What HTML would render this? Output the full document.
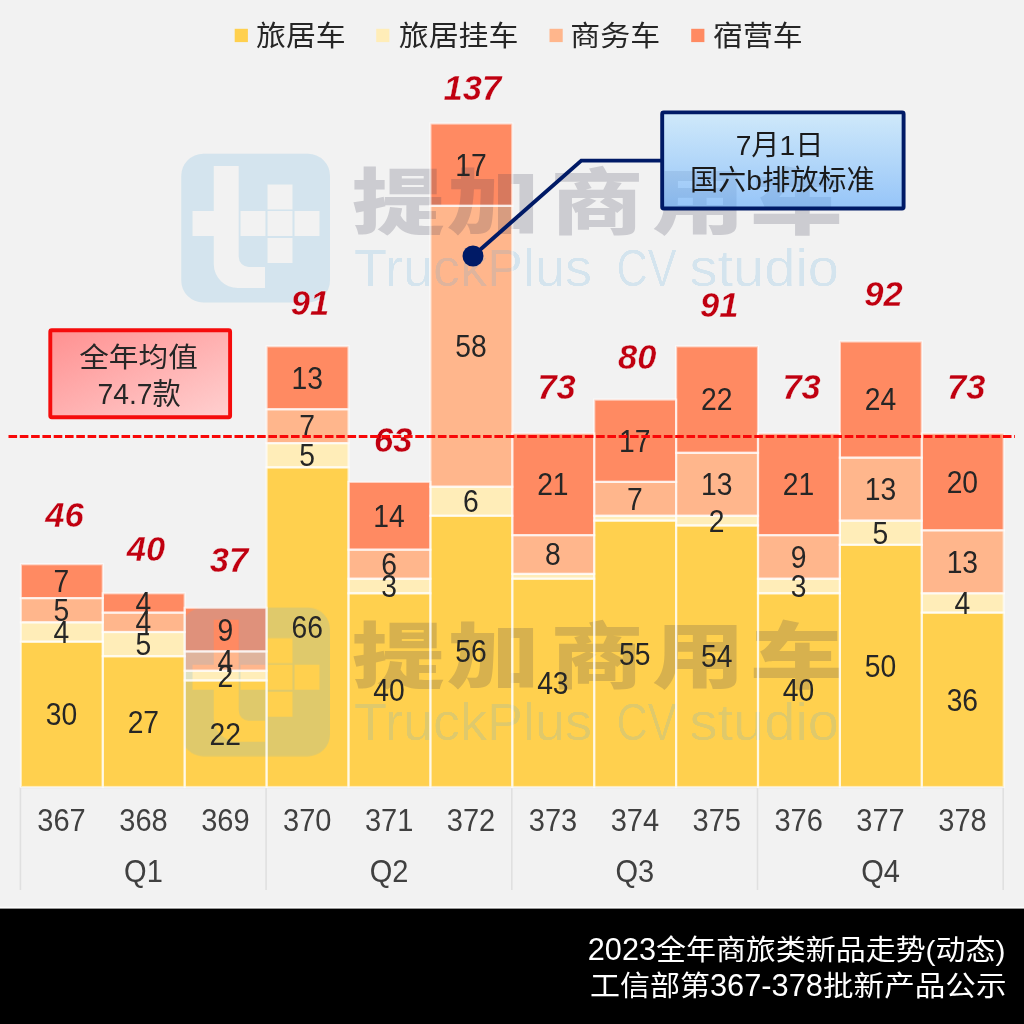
<!DOCTYPE html>
<html lang="zh-CN"><head><meta charset="utf-8"><title>2023全年商旅类新品走势(动态)</title>
<style>
html,body{margin:0;padding:0;background:#f2f2f2;}
body{width:1024px;height:1024px;overflow:hidden;}
svg{display:block;font-family:"Liberation Sans", "Noto Sans CJK SC", sans-serif;}
.dl{font-size:31px;fill:#262626;text-anchor:middle;}
.tot{font-size:35.3px;font-weight:bold;font-style:italic;fill:#c00010;text-anchor:middle;stroke:#f4f4f4;stroke-width:0.35px;}
.ax{font-size:31px;fill:#404040;text-anchor:middle;}
.lg{font-size:29.3px;fill:#262626;}
.fl{font-size:30px;fill:#ffffff;}
.wm{opacity:0.2;}
.wmc{font-family:"Noto Sans CJK SC","Liberation Sans",sans-serif;font-weight:900;font-size:72px;fill:#39394f;}
.wme{font-size:51px;fill:#61b1de;}
.cb{font-size:28.2px;fill:#1a1a1a;text-anchor:middle;}
.cr{font-size:29.3px;fill:#262626;text-anchor:middle;}
</style></head><body>
<svg width="1024" height="1024" viewBox="0 0 1024 1024">
<defs>
<linearGradient id="gb" x1="0" y1="0" x2="0" y2="1"><stop offset="0" stop-color="#b8e3ff"/><stop offset="1" stop-color="#58a6fc"/></linearGradient>
<linearGradient id="gr" x1="0" y1="0" x2="1" y2="1"><stop offset="0" stop-color="#ff9090"/><stop offset="1" stop-color="#ffd0d0"/></linearGradient>
<filter id="thin" x="-2%" y="-15%" width="104%" height="130%"><feGaussianBlur stdDeviation="0.7"/><feComponentTransfer><feFuncA type="linear" slope="2.5" intercept="-1.3"/></feComponentTransfer></filter>
<clipPath id="cw"><rect x="184.70" y="560" width="840" height="227.00"/></clipPath>
</defs>
<rect x="0" y="0" width="1024" height="908.6" fill="#f2f2f2"/>
<rect x="0" y="906.7" width="1024" height="2" fill="#ffffff" opacity="0.85"/>
<rect x="0" y="908.6" width="1024" height="115.4" fill="#000000"/>
<g id="legend">
<rect x="234.7" y="28.8" width="13.2" height="13.3" fill="#ffd04e"/>
<text class="lg" transform="translate(256.0 45.7) scale(1.022 0.98)">旅居车</text>
<rect x="376.2" y="28.8" width="13.2" height="13.3" fill="#ffedb8"/>
<text class="lg" transform="translate(398.7 45.7) scale(1.022 0.98)">旅居挂车</text>
<rect x="549.5" y="28.8" width="13.2" height="13.3" fill="#ffb68c"/>
<text class="lg" transform="translate(570.3 45.7) scale(1.022 0.98)">商务车</text>
<rect x="691.2" y="28.8" width="13.2" height="13.3" fill="#ff8a62"/>
<text class="lg" transform="translate(713.0 45.7) scale(1.022 0.98)">宿营车</text>
</g>
<g id="axis" stroke="#e0e0e0" stroke-width="1.6" fill="none">
<line x1="20.90" y1="787.5" x2="1003.70" y2="787.5"/>
<line x1="20.40" y1="787.0" x2="20.40" y2="890"/>
<line x1="266.10" y1="787.0" x2="266.10" y2="890"/>
<line x1="511.80" y1="787.0" x2="511.80" y2="890"/>
<line x1="757.50" y1="787.0" x2="757.50" y2="890"/>
<line x1="1003.20" y1="787.0" x2="1003.20" y2="890"/>
</g>
<g id="bars">
<rect x="20.90" y="641.71" width="81.90" height="145.29" fill="#ffd04e"/>
<rect x="20.90" y="622.34" width="81.90" height="19.37" fill="#ffedb8"/>
<rect x="20.90" y="598.12" width="81.90" height="24.21" fill="#ffb68c"/>
<rect x="20.90" y="564.22" width="81.90" height="33.90" fill="#ff8a62"/>
<rect x="102.80" y="656.24" width="81.90" height="130.76" fill="#ffd04e"/>
<rect x="102.80" y="632.02" width="81.90" height="24.22" fill="#ffedb8"/>
<rect x="102.80" y="612.65" width="81.90" height="19.37" fill="#ffb68c"/>
<rect x="102.80" y="593.28" width="81.90" height="19.37" fill="#ff8a62"/>
<rect x="184.70" y="680.45" width="81.90" height="106.55" fill="#ffd04e"/>
<rect x="184.70" y="670.77" width="81.90" height="9.69" fill="#ffedb8"/>
<rect x="184.70" y="651.40" width="81.90" height="19.37" fill="#ffb68c"/>
<rect x="184.70" y="607.81" width="81.90" height="43.59" fill="#ff8a62"/>
<rect x="266.60" y="467.36" width="81.90" height="319.64" fill="#ffd04e"/>
<rect x="266.60" y="443.15" width="81.90" height="24.22" fill="#ffedb8"/>
<rect x="266.60" y="409.25" width="81.90" height="33.90" fill="#ffb68c"/>
<rect x="266.60" y="346.29" width="81.90" height="62.96" fill="#ff8a62"/>
<rect x="348.50" y="593.28" width="81.90" height="193.72" fill="#ffd04e"/>
<rect x="348.50" y="578.75" width="81.90" height="14.53" fill="#ffedb8"/>
<rect x="348.50" y="549.69" width="81.90" height="29.06" fill="#ffb68c"/>
<rect x="348.50" y="481.89" width="81.90" height="67.80" fill="#ff8a62"/>
<rect x="430.40" y="515.79" width="81.90" height="271.21" fill="#ffd04e"/>
<rect x="430.40" y="486.73" width="81.90" height="29.06" fill="#ffedb8"/>
<rect x="430.40" y="205.84" width="81.90" height="280.89" fill="#ffb68c"/>
<rect x="430.40" y="123.51" width="81.90" height="82.33" fill="#ff8a62"/>
<rect x="512.30" y="578.75" width="81.90" height="208.25" fill="#ffd04e"/>
<rect x="512.30" y="573.91" width="81.90" height="4.84" fill="#ffedb8"/>
<rect x="512.30" y="535.16" width="81.90" height="38.74" fill="#ffb68c"/>
<rect x="512.30" y="433.46" width="81.90" height="101.70" fill="#ff8a62"/>
<rect x="594.20" y="520.63" width="81.90" height="266.37" fill="#ffd04e"/>
<rect x="594.20" y="515.79" width="81.90" height="4.84" fill="#ffedb8"/>
<rect x="594.20" y="481.89" width="81.90" height="33.90" fill="#ffb68c"/>
<rect x="594.20" y="399.56" width="81.90" height="82.33" fill="#ff8a62"/>
<rect x="676.10" y="525.48" width="81.90" height="261.52" fill="#ffd04e"/>
<rect x="676.10" y="515.79" width="81.90" height="9.69" fill="#ffedb8"/>
<rect x="676.10" y="452.83" width="81.90" height="62.96" fill="#ffb68c"/>
<rect x="676.10" y="346.29" width="81.90" height="106.55" fill="#ff8a62"/>
<rect x="758.00" y="593.28" width="81.90" height="193.72" fill="#ffd04e"/>
<rect x="758.00" y="578.75" width="81.90" height="14.53" fill="#ffedb8"/>
<rect x="758.00" y="535.16" width="81.90" height="43.59" fill="#ffb68c"/>
<rect x="758.00" y="433.46" width="81.90" height="101.70" fill="#ff8a62"/>
<rect x="839.90" y="544.85" width="81.90" height="242.15" fill="#ffd04e"/>
<rect x="839.90" y="520.63" width="81.90" height="24.22" fill="#ffedb8"/>
<rect x="839.90" y="457.68" width="81.90" height="62.96" fill="#ffb68c"/>
<rect x="839.90" y="341.44" width="81.90" height="116.23" fill="#ff8a62"/>
<rect x="921.80" y="612.65" width="81.90" height="174.35" fill="#ffd04e"/>
<rect x="921.80" y="593.28" width="81.90" height="19.37" fill="#ffedb8"/>
<rect x="921.80" y="530.32" width="81.90" height="62.96" fill="#ffb68c"/>
<rect x="921.80" y="433.46" width="81.90" height="96.86" fill="#ff8a62"/>
</g>
<g class="wm" transform="translate(0 0)">
<path fill="#61b1de" fill-rule="evenodd" d="M203.25 153.75 h104.75 a22 22 0 0 1 22 22 v104.75 a22 22 0 0 1 -22 22 h-104.75 a22 22 0 0 1 -22 -22 v-104.75 a22 22 0 0 1 22 -22 z M213.75 166.00 L238.75 166.00 L238.75 257.00 A10 10 0 0 0 248.75 267.00 L265.00 267.00 L265.00 288.00 L237.75 288.00 A24 24 0 0 1 213.75 264.00 L213.75 236.00 L192.50 236.00 L192.50 211.00 L213.75 211.00 z M267.50 184.50 h25 v25 h-25 z M267.50 211.00 h25 v25 h-25 z M267.50 238.00 h25 v25 h-25 z M240.50 211.00 h25 v25 h-25 z M294.50 211.00 h25 v25 h-25 z"/>
<text class="wmc" transform="translate(0 228.3) scale(1.29 1)" x="272.71 346.36 426.74 505.43 581.40" y="0">提加商用车</text>
<text class="wme" y="286.3" filter="url(#thin)"><tspan x="354" textLength="238" lengthAdjust="spacingAndGlyphs">TruckPlus</tspan> <tspan x="616.5" textLength="60" lengthAdjust="spacingAndGlyphs">CV</tspan> <tspan x="689.5" textLength="149.5" lengthAdjust="spacingAndGlyphs">studio</tspan></text>
</g>
<g clip-path="url(#cw)">
<g class="wm" transform="translate(0 453.7)">
<path fill="#61b1de" fill-rule="evenodd" d="M203.25 153.75 h104.75 a22 22 0 0 1 22 22 v104.75 a22 22 0 0 1 -22 22 h-104.75 a22 22 0 0 1 -22 -22 v-104.75 a22 22 0 0 1 22 -22 z M213.75 166.00 L238.75 166.00 L238.75 257.00 A10 10 0 0 0 248.75 267.00 L265.00 267.00 L265.00 288.00 L237.75 288.00 A24 24 0 0 1 213.75 264.00 L213.75 236.00 L192.50 236.00 L192.50 211.00 L213.75 211.00 z M267.50 184.50 h25 v25 h-25 z M267.50 211.00 h25 v25 h-25 z M267.50 238.00 h25 v25 h-25 z M240.50 211.00 h25 v25 h-25 z M294.50 211.00 h25 v25 h-25 z"/>
<text class="wmc" transform="translate(0 228.3) scale(1.29 1)" x="272.71 346.36 426.74 505.43 581.40" y="0">提加商用车</text>
<text class="wme" y="286.3" filter="url(#thin)"><tspan x="354" textLength="238" lengthAdjust="spacingAndGlyphs">TruckPlus</tspan> <tspan x="616.5" textLength="60" lengthAdjust="spacingAndGlyphs">CV</tspan> <tspan x="689.5" textLength="149.5" lengthAdjust="spacingAndGlyphs">studio</tspan></text>
</g>
</g>
<g id="barlines" fill="none" stroke="#ffffff" stroke-opacity="0.6" stroke-width="2.2">
<rect x="20.90" y="641.71" width="81.90" height="145.29"/>
<rect x="20.90" y="622.34" width="81.90" height="19.37"/>
<rect x="20.90" y="598.12" width="81.90" height="24.21"/>
<rect x="20.90" y="564.22" width="81.90" height="33.90"/>
<rect x="102.80" y="656.24" width="81.90" height="130.76"/>
<rect x="102.80" y="632.02" width="81.90" height="24.22"/>
<rect x="102.80" y="612.65" width="81.90" height="19.37"/>
<rect x="102.80" y="593.28" width="81.90" height="19.37"/>
<rect x="184.70" y="680.45" width="81.90" height="106.55"/>
<rect x="184.70" y="670.77" width="81.90" height="9.69"/>
<rect x="184.70" y="651.40" width="81.90" height="19.37"/>
<rect x="184.70" y="607.81" width="81.90" height="43.59"/>
<rect x="266.60" y="467.36" width="81.90" height="319.64"/>
<rect x="266.60" y="443.15" width="81.90" height="24.22"/>
<rect x="266.60" y="409.25" width="81.90" height="33.90"/>
<rect x="266.60" y="346.29" width="81.90" height="62.96"/>
<rect x="348.50" y="593.28" width="81.90" height="193.72"/>
<rect x="348.50" y="578.75" width="81.90" height="14.53"/>
<rect x="348.50" y="549.69" width="81.90" height="29.06"/>
<rect x="348.50" y="481.89" width="81.90" height="67.80"/>
<rect x="430.40" y="515.79" width="81.90" height="271.21"/>
<rect x="430.40" y="486.73" width="81.90" height="29.06"/>
<rect x="430.40" y="205.84" width="81.90" height="280.89"/>
<rect x="430.40" y="123.51" width="81.90" height="82.33"/>
<rect x="512.30" y="578.75" width="81.90" height="208.25"/>
<rect x="512.30" y="573.91" width="81.90" height="4.84"/>
<rect x="512.30" y="535.16" width="81.90" height="38.74"/>
<rect x="512.30" y="433.46" width="81.90" height="101.70"/>
<rect x="594.20" y="520.63" width="81.90" height="266.37"/>
<rect x="594.20" y="515.79" width="81.90" height="4.84"/>
<rect x="594.20" y="481.89" width="81.90" height="33.90"/>
<rect x="594.20" y="399.56" width="81.90" height="82.33"/>
<rect x="676.10" y="525.48" width="81.90" height="261.52"/>
<rect x="676.10" y="515.79" width="81.90" height="9.69"/>
<rect x="676.10" y="452.83" width="81.90" height="62.96"/>
<rect x="676.10" y="346.29" width="81.90" height="106.55"/>
<rect x="758.00" y="593.28" width="81.90" height="193.72"/>
<rect x="758.00" y="578.75" width="81.90" height="14.53"/>
<rect x="758.00" y="535.16" width="81.90" height="43.59"/>
<rect x="758.00" y="433.46" width="81.90" height="101.70"/>
<rect x="839.90" y="544.85" width="81.90" height="242.15"/>
<rect x="839.90" y="520.63" width="81.90" height="24.22"/>
<rect x="839.90" y="457.68" width="81.90" height="62.96"/>
<rect x="839.90" y="341.44" width="81.90" height="116.23"/>
<rect x="921.80" y="612.65" width="81.90" height="174.35"/>
<rect x="921.80" y="593.28" width="81.90" height="19.37"/>
<rect x="921.80" y="530.32" width="81.90" height="62.96"/>
<rect x="921.80" y="433.46" width="81.90" height="96.86"/>
</g>
<g id="callout">
<polyline points="661,160.6 581.3,160.6 473,256" fill="none" stroke="#001a66" stroke-width="3.9" stroke-linejoin="miter"/>
<circle cx="473" cy="256" r="10.5" fill="#001a66"/>
<rect x="662.2" y="112.4" width="241.4" height="96.1" rx="1.5" fill="url(#gb)" fill-opacity="0.6" stroke="#001a66" stroke-width="3.9"/>
<text class="cb" x="779.5" y="155">7月1日</text>
<text class="cb" x="782.3" y="190">国六b排放标准</text>
</g>
<g id="avgbox">
<rect x="50.3" y="330.2" width="179.8" height="87" rx="1.5" fill="url(#gr)" stroke="#f50c0c" stroke-width="3.9"/>
<text class="cr" transform="translate(138.5 366.5) scale(1.012 0.95)">全年均值</text>
<text class="cr" transform="translate(139.2 404) scale(0.965 1)">74.7款</text>
</g>
<g id="labels">
<text class="dl" transform="translate(61.45 725.25) scale(0.912 1)">30</text>
<text class="dl" transform="translate(61.45 642.92) scale(0.912 1)">4</text>
<text class="dl" transform="translate(61.45 621.13) scale(0.912 1)">5</text>
<text class="dl" transform="translate(61.45 592.07) scale(0.912 1)">7</text>
<text class="dl" transform="translate(143.35 732.52) scale(0.912 1)">27</text>
<text class="dl" transform="translate(143.35 655.03) scale(0.912 1)">5</text>
<text class="dl" transform="translate(143.35 633.24) scale(0.912 1)">4</text>
<text class="dl" transform="translate(143.35 613.87) scale(0.912 1)">4</text>
<text class="dl" transform="translate(225.25 744.63) scale(0.912 1)">22</text>
<text class="dl" transform="translate(225.25 686.51) scale(0.912 1)">2</text>
<text class="dl" transform="translate(225.25 671.98) scale(0.912 1)">4</text>
<text class="dl" transform="translate(225.25 640.50) scale(0.912 1)">9</text>
<text class="dl" transform="translate(307.15 638.08) scale(0.912 1)">66</text>
<text class="dl" transform="translate(307.15 466.15) scale(0.912 1)">5</text>
<text class="dl" transform="translate(307.15 437.10) scale(0.912 1)">7</text>
<text class="dl" transform="translate(307.15 388.67) scale(0.912 1)">13</text>
<text class="dl" transform="translate(389.05 701.04) scale(0.912 1)">40</text>
<text class="dl" transform="translate(389.05 596.92) scale(0.912 1)">3</text>
<text class="dl" transform="translate(389.05 575.12) scale(0.912 1)">6</text>
<text class="dl" transform="translate(389.05 526.69) scale(0.912 1)">14</text>
<text class="dl" transform="translate(470.95 662.30) scale(0.912 1)">56</text>
<text class="dl" transform="translate(470.95 512.16) scale(0.912 1)">6</text>
<text class="dl" transform="translate(470.95 357.19) scale(0.912 1)">58</text>
<text class="dl" transform="translate(470.95 175.57) scale(0.912 1)">17</text>
<text class="dl" transform="translate(552.85 693.78) scale(0.912 1)">43</text>
<text class="dl" transform="translate(552.85 565.44) scale(0.912 1)">8</text>
<text class="dl" transform="translate(552.85 495.21) scale(0.912 1)">21</text>
<text class="dl" transform="translate(634.75 664.72) scale(0.912 1)">55</text>
<text class="dl" transform="translate(634.75 509.74) scale(0.912 1)">7</text>
<text class="dl" transform="translate(634.75 451.63) scale(0.912 1)">17</text>
<text class="dl" transform="translate(716.65 667.14) scale(0.912 1)">54</text>
<text class="dl" transform="translate(716.65 531.53) scale(0.912 1)">2</text>
<text class="dl" transform="translate(716.65 495.21) scale(0.912 1)">13</text>
<text class="dl" transform="translate(716.65 410.46) scale(0.912 1)">22</text>
<text class="dl" transform="translate(798.55 701.04) scale(0.912 1)">40</text>
<text class="dl" transform="translate(798.55 596.92) scale(0.912 1)">3</text>
<text class="dl" transform="translate(798.55 567.86) scale(0.912 1)">9</text>
<text class="dl" transform="translate(798.55 495.21) scale(0.912 1)">21</text>
<text class="dl" transform="translate(880.45 676.82) scale(0.912 1)">50</text>
<text class="dl" transform="translate(880.45 543.64) scale(0.912 1)">5</text>
<text class="dl" transform="translate(880.45 500.06) scale(0.912 1)">13</text>
<text class="dl" transform="translate(880.45 410.46) scale(0.912 1)">24</text>
<text class="dl" transform="translate(962.35 710.73) scale(0.912 1)">36</text>
<text class="dl" transform="translate(962.35 613.87) scale(0.912 1)">4</text>
<text class="dl" transform="translate(962.35 572.70) scale(0.912 1)">13</text>
<text class="dl" transform="translate(962.35 492.79) scale(0.912 1)">20</text>
</g>
<g id="totals">
<text class="tot" transform="translate(64.5 527.0) scale(0.978 1)">46</text>
<text class="tot" transform="translate(146.0 561.0) scale(0.978 1)">40</text>
<text class="tot" transform="translate(229.0 572.0) scale(0.978 1)">37</text>
<text class="tot" transform="translate(310.0 315.3) scale(0.978 1)">91</text>
<text class="tot" transform="translate(393.3 452.3) scale(0.978 1)">63</text>
<text class="tot" transform="translate(472.3 99.5) scale(0.978 1)">137</text>
<text class="tot" transform="translate(556.6 399.4) scale(0.978 1)">73</text>
<text class="tot" transform="translate(637.3 368.6) scale(0.978 1)">80</text>
<text class="tot" transform="translate(719.2 317.0) scale(0.978 1)">91</text>
<text class="tot" transform="translate(801.6 399.4) scale(0.978 1)">73</text>
<text class="tot" transform="translate(883.5 305.8) scale(0.978 1)">92</text>
<text class="tot" transform="translate(966.2 399.4) scale(0.978 1)">73</text>
</g>
<line x1="8.5" y1="436.6" x2="1015" y2="436.6" stroke="#f80808" stroke-width="3" stroke-dasharray="8.6 2.7"/>
<g id="axlabels">
<text class="ax" transform="translate(61.55 831) scale(0.936 1)">367</text>
<text class="ax" transform="translate(143.45 831) scale(0.936 1)">368</text>
<text class="ax" transform="translate(225.35 831) scale(0.936 1)">369</text>
<text class="ax" transform="translate(307.25 831) scale(0.936 1)">370</text>
<text class="ax" transform="translate(389.15 831) scale(0.936 1)">371</text>
<text class="ax" transform="translate(471.05 831) scale(0.936 1)">372</text>
<text class="ax" transform="translate(552.95 831) scale(0.936 1)">373</text>
<text class="ax" transform="translate(634.85 831) scale(0.936 1)">374</text>
<text class="ax" transform="translate(716.75 831) scale(0.936 1)">375</text>
<text class="ax" transform="translate(798.65 831) scale(0.936 1)">376</text>
<text class="ax" transform="translate(880.55 831) scale(0.936 1)">377</text>
<text class="ax" transform="translate(962.45 831) scale(0.936 1)">378</text>
<text class="ax" transform="translate(143.45 882) scale(0.936 1)">Q1</text>
<text class="ax" transform="translate(389.15 882) scale(0.936 1)">Q2</text>
<text class="ax" transform="translate(634.85 882) scale(0.936 1)">Q3</text>
<text class="ax" transform="translate(880.55 882) scale(0.936 1)">Q4</text>
</g>
<g id="footer">
<text class="fl" transform="translate(587.8 960) scale(1 0.95)"><tspan font-size="32.5" textLength="68.2" lengthAdjust="spacingAndGlyphs">2023</tspan><tspan textLength="349.5" lengthAdjust="spacingAndGlyphs">全年商旅类新品走势(动态)</tspan></text>
<text class="fl" transform="translate(590 995.7) scale(1 0.95)"><tspan textLength="120" lengthAdjust="spacingAndGlyphs">工信部第</tspan><tspan font-size="32.5" textLength="113" lengthAdjust="spacingAndGlyphs">367-378</tspan><tspan textLength="183.5" lengthAdjust="spacingAndGlyphs">批新产品公示</tspan></text>
</g>
</svg>
</body></html>
